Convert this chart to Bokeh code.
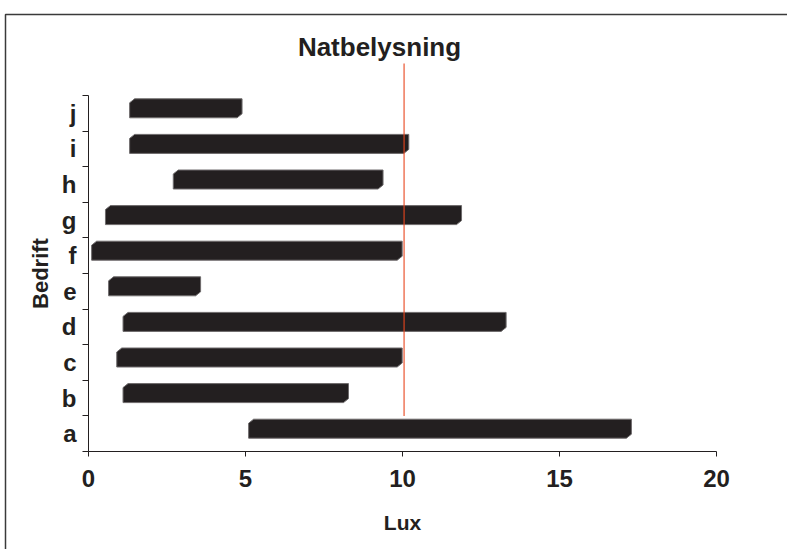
from bokeh.plotting import figure
from bokeh.models import FixedTicker, Range1d
from bokeh.core.properties import value
from bokeh.embed import file_html
from bokeh.resources import INLINE

# --- data -------------------------------------------------------------
companies = ["a", "b", "c", "d", "e", "f", "g", "h", "i", "j"]
lux_low = [5.1, 1.1, 0.9, 1.1, 0.64, 0.1, 0.54, 2.7, 1.31, 1.31]
lux_high = [17.29, 8.28, 9.99, 13.3, 3.57, 9.99, 11.88, 9.38, 10.2, 4.89]
x_ticks = [0, 5, 10, 15, 20]
night_limit = 10.05

title_text = "Natbelysning"
x_title = "Lux"
y_title = "Bedrift"

# --- layout (pixels) --------------------------------------------------
W, H = 787, 549
X0_PX, PX_PER_LUX = 88, 31.4        # where x=0 sits, px per lux
Y0_PX, PX_PER_ROW = 451, 35.6       # where the bottom row boundary sits
BORDER_LEFT_PX, BORDER_TOP_PX = 5, 14

def px_to_x(px):
    return (px - X0_PX) / PX_PER_LUX

def px_to_y(py):
    return (Y0_PX - py) / PX_PER_ROW

INK = "#231f20"
FONT = "Liberation Sans"

p = figure(width=W, height=H, title=None, toolbar_location=None,
           output_backend="svg", min_border=0,
           x_range=Range1d(px_to_x(0), px_to_x(W)),
           y_range=Range1d(px_to_y(H), px_to_y(0)))
p.outline_line_color = None
p.grid.visible = False
p.background_fill_color = "white"
p.border_fill_color = "white"

# outer chart-area border (left and top edges)
bx, by = px_to_x(BORDER_LEFT_PX), px_to_y(BORDER_TOP_PX)
p.line([bx, bx, px_to_x(W + 5)], [px_to_y(H + 5), by, by],
       line_color="#3a3a3a", line_width=1.5)

# --- bars: flat boxes with chamfered top-left / bottom-right corners ---
half_h = 9.5 / PX_PER_ROW
lift = 5.0 / PX_PER_ROW
cdx = 5.0 / PX_PER_LUX
cdy = 4.0 / PX_PER_ROW
xs, ys = [], []
for i, (lo, hi) in enumerate(zip(lux_low, lux_high)):
    yc = i + 0.5 + lift
    y0, y1 = yc - half_h, yc + half_h
    xs.append([lo, lo, lo + cdx, hi, hi, hi - cdx])
    ys.append([y0, y1 - cdy, y1, y1, y0 + cdy, y0])
p.patches(xs, ys, fill_color=INK, line_color="#6e6b6c", line_width=1)

# --- night-lighting reference line ------------------------------------
p.segment(x0=[night_limit], y0=[1], x1=[night_limit], y1=[px_to_y(63)],
          line_color="#e8461e", line_width=1.1)

# --- title ------------------------------------------------------------
p.text(x=[px_to_x(379)], y=[px_to_y(46)], text=[title_text],
       text_font=value(FONT), text_font_style="bold", text_font_size="26px",
       text_color=INK, text_align="center", text_baseline="middle")

# --- axes -------------------------------------------------------------
xa = p.xaxis[0]
xa.fixed_location = 0
xa.bounds = (0, 20)
xa.ticker = FixedTicker(ticks=x_ticks)
xa.minor_tick_line_color = None
xa.major_tick_in = 0
xa.major_tick_out = 5
xa.axis_line_color = INK
xa.major_tick_line_color = INK
xa.major_label_text_font = FONT
xa.major_label_text_font_style = "bold"
xa.major_label_text_font_size = "24px"
xa.major_label_text_color = INK
xa.major_label_standoff = 13
xa.axis_label = x_title
xa.axis_label_text_font = FONT
xa.axis_label_text_font_style = "bold"
xa.axis_label_text_font_size = "21px"
xa.axis_label_text_color = INK
xa.axis_label_standoff = 21

ya = p.yaxis[0]
ya.fixed_location = 0
ya.bounds = (0, len(companies))
ya.ticker = FixedTicker(ticks=[i + 0.5 for i in range(len(companies))],
                        minor_ticks=list(range(len(companies) + 1)))
ya.major_label_overrides = {i + 0.5: c for i, c in enumerate(companies)}
ya.major_tick_line_color = None
ya.major_tick_in = 0
ya.major_tick_out = 0
ya.minor_tick_in = 0
ya.minor_tick_out = 6
ya.minor_tick_line_color = INK
ya.axis_line_color = INK
ya.major_label_text_font = FONT
ya.major_label_text_font_style = "bold"
ya.major_label_text_font_size = "24px"
ya.major_label_text_color = INK
ya.major_label_standoff = 6
ya.axis_label = y_title
ya.axis_label_text_font = FONT
ya.axis_label_text_font_style = "bold"
ya.axis_label_text_font_size = "22px"
ya.axis_label_text_color = INK
ya.axis_label_standoff = 6

open("out.html", "w").write(file_html(p, INLINE))
